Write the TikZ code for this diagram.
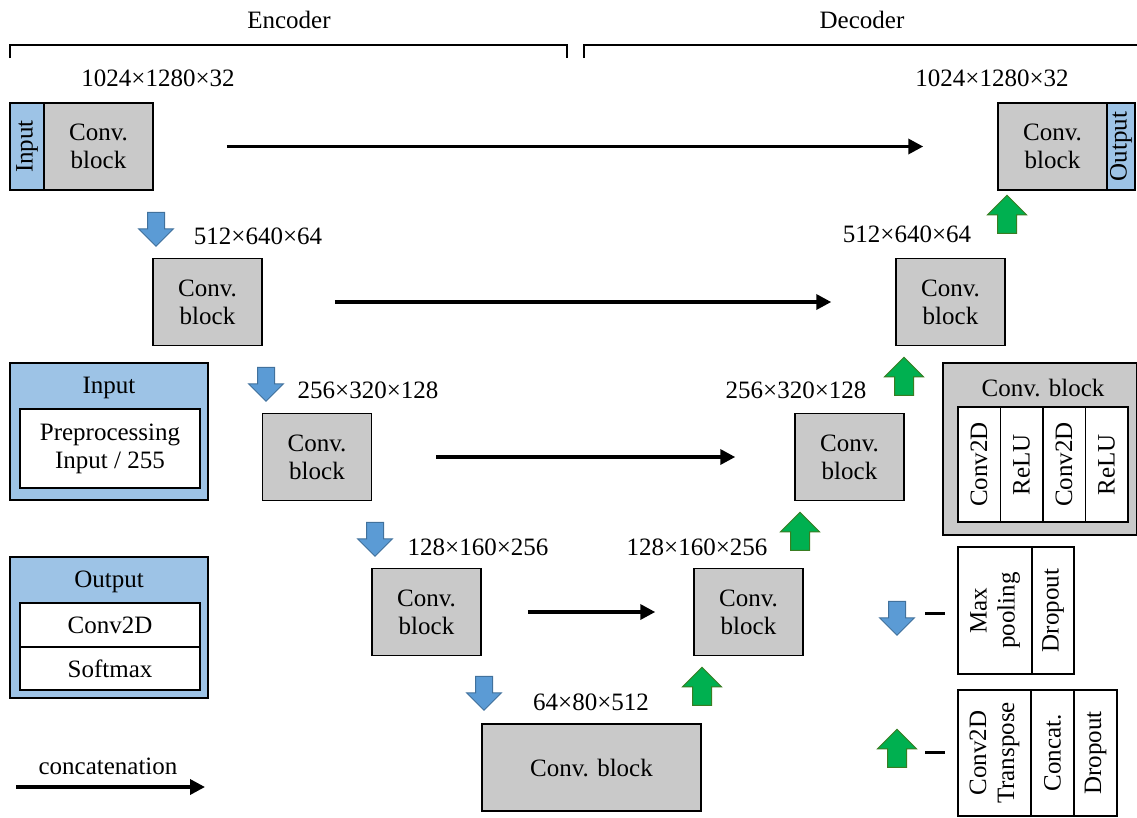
\documentclass[tikz,border=0pt]{standalone}
\usepackage{fontspec}
\setmainfont{Liberation Serif}
\usetikzlibrary{arrows.meta,shapes.arrows}
\definecolor{ink}{HTML}{000000}
\definecolor{blockgray}{HTML}{C9C9C9}
\definecolor{inblue}{HTML}{9DC3E6}
\definecolor{downfill}{HTML}{5B9BD5}
\definecolor{downedge}{HTML}{41719C}
\definecolor{upfill}{HTML}{00B050}
\definecolor{upedge}{HTML}{3A7D22}
\tikzset{
  blk/.style={draw=ink,line width=1.5pt,fill=blockgray,align=center,minimum width=109pt,minimum height=87pt,inner sep=0pt},
  side/.style={draw=ink,line width=1.5pt,fill=inblue,rotate=90,minimum width=87pt,minimum height=34pt,inner sep=0pt},
  panel/.style={draw=ink,line width=1.5pt,inner sep=0pt},
  cell/.style={draw=ink,line width=1.5pt,fill=white,align=center,inner sep=0pt},
  vcell/.style={cell,rotate=90},
  dim/.style={inner sep=0pt},
  ar/.style={-{Triangle[length=15pt,width=15pt]},draw=ink,line width=3.5pt},
  down/.style={single arrow,draw=downedge,fill=downfill,line width=1pt,rotate=-90,minimum height=34pt,inner xsep=0pt,inner ysep=8pt,single arrow head extend=9pt},
  up/.style={single arrow,draw=upedge,fill=upfill,line width=1pt,rotate=90,minimum height=38pt,inner xsep=0pt,inner ysep=9pt,single arrow head extend=10pt},
  sep/.style={draw=ink,line width=3pt},
  brace/.style={draw=ink,line width=2pt},
}

\begin{document}
\begin{tikzpicture}[x=1pt,y=-1pt,font=\fontsize{25}{28}\selectfont]
  \useasboundingbox (0,0) rectangle (1137,817);

  % encoder / decoder brackets
  \node[dim] (enc) at (289,20) {Encoder};
  \node[dim] (dec) at (862,20) {Decoder};
  \draw[brace] (10,58) |- (567,45) -- (567,58);
  \draw[brace] (584,58) |- (1137,45);

  % encoder path
  \node[side] (inp) at (27,146.5) {Input};
  \node[blk,minimum width=109pt] (l1) at (98.5,146.5) {Conv.\\block};
  \node[blk] (l2) at (207.5,302) {Conv.\\block};
  \node[blk] (l3) at (317,457) {Conv.\\block};
  \node[blk] (l4) at (426.5,612) {Conv.\\block};
  \node[blk,minimum width=219pt] (bot) at (591.5,767.5) {Conv. block};

  % decoder path
  \node[blk] (r1) at (1052.5,146.5) {Conv.\\block};
  \node[side,minimum height=28pt] (outp) at (1121,146.5) {Output};
  \node[blk] (r2) at (950.5,302) {Conv.\\block};
  \node[blk] (r3) at (849.5,457) {Conv.\\block};
  \node[blk] (r4) at (748.5,612) {Conv.\\block};

  % feature map sizes
  \node[dim] (s1l) at (158,78) {1024×1280×32};
  \node[dim] (s1r) at (992,78) {1024×1280×32};
  \node[dim] (s2l) at (258,236) {512×640×64};
  \node[dim] (s2r) at (907,234) {512×640×64};
  \node[dim] (s3l) at (368,390) {256×320×128};
  \node[dim] (s3r) at (796,390) {256×320×128};
  \node[dim] (s4l) at (478,547) {128×160×256};
  \node[dim] (s4r) at (697,547) {128×160×256};
  \node[dim] (s5) at (591,702) {64×80×512};

  % pooling / upsampling steps
  \node[down] (p1) at (156,225) {};
  \node[down] (p2) at (266,380) {};
  \node[down] (p3) at (375,535) {};
  \node[down] (p4) at (484,689) {};
  \node[up] (u1) at (1007,219) {};
  \node[up] (u2) at (904,381) {};
  \node[up] (u3) at (800,536) {};
  \node[up] (u4) at (702,691) {};

  % skip connections
  \draw[ar,shorten <=73pt,shorten >=74pt] (l1.east) -- (r1.west);
  \draw[ar,shorten <=72pt,shorten >=64pt] (l2.east) -- (r2.west);
  \draw[ar,shorten <=64pt,shorten >=59pt] (l3.east) -- (r3.west);
  \draw[ar,shorten <=46pt,shorten >=38pt] (l4.east) -- (r4.west);

  % legend: input and output
  \node[panel,fill=inblue,minimum width=198pt,minimum height=137pt] (kin) at (109,431.5) {};
  \node[dim] (kint) at (109,388) {Input};
  \node[cell,minimum width=180pt,minimum height=79pt] (kpre) at (110,448.5) {Preprocessing\\Input / 255};
  \node[panel,fill=inblue,minimum width=198pt,minimum height=141pt] (kout) at (109,627.5) {};
  \node[dim] (koutt) at (109,582) {Output};
  \node[cell,minimum width=180pt,minimum height=44pt] (kconv) at (110,625) {Conv2D};
  \node[cell,minimum width=180pt,minimum height=43pt] (ksoft) at (110,668.5) {Softmax};

  % legend: concatenation
  \node[dim] (kcat) at (108,766) {concatenation};
  \coordinate (ca) at (16,787);
  \coordinate (cb) at (205,787);
  \draw[ar] (ca) -- (cb);

  % legend: conv block
  \node[panel,fill=blockgray,minimum width=194pt,minimum height=172pt] (kblk) at (1040,449) {};
  \node[dim] (kblkt) at (1043,388) {Conv. block};
  \node[vcell,minimum width=115pt,minimum height=42.5pt] (c1) at (979,464.5) {Conv2D};
  \node[vcell,minimum width=115pt,minimum height=42.5pt] (c2) at (1021.5,464.5) {ReLU};
  \node[vcell,minimum width=115pt,minimum height=42.5pt] (c3) at (1064,464.5) {Conv2D};
  \node[vcell,minimum width=115pt,minimum height=42.5pt] (c4) at (1106.5,464.5) {ReLU};

  % legend: down step
  \node[down] (kdown) at (897,614) {};
  \coordinate (d1) at (925,613);
  \coordinate (d2) at (945,613);
  \draw[sep] (d1) -- (d2);
  \node[vcell,minimum width=127pt,minimum height=74pt] (m1) at (995,610.5) {Max\\pooling};
  \node[vcell,minimum width=127pt,minimum height=42pt] (m2) at (1053,610.5) {Dropout};

  % legend: up step
  \node[up] (kup) at (897,753) {};
  \coordinate (e1) at (925,752);
  \coordinate (e2) at (945,752);
  \draw[sep] (e1) -- (e2);
  \node[vcell,minimum width=126pt,minimum height=73pt] (t1) at (994.5,753) {Conv2D\\Transpose};
  \node[vcell,minimum width=126pt,minimum height=43pt] (t2) at (1052.5,753) {Concat.};
  \node[vcell,minimum width=126pt,minimum height=43pt] (t3) at (1095.5,753) {Dropout};
\end{tikzpicture}
\end{document}
